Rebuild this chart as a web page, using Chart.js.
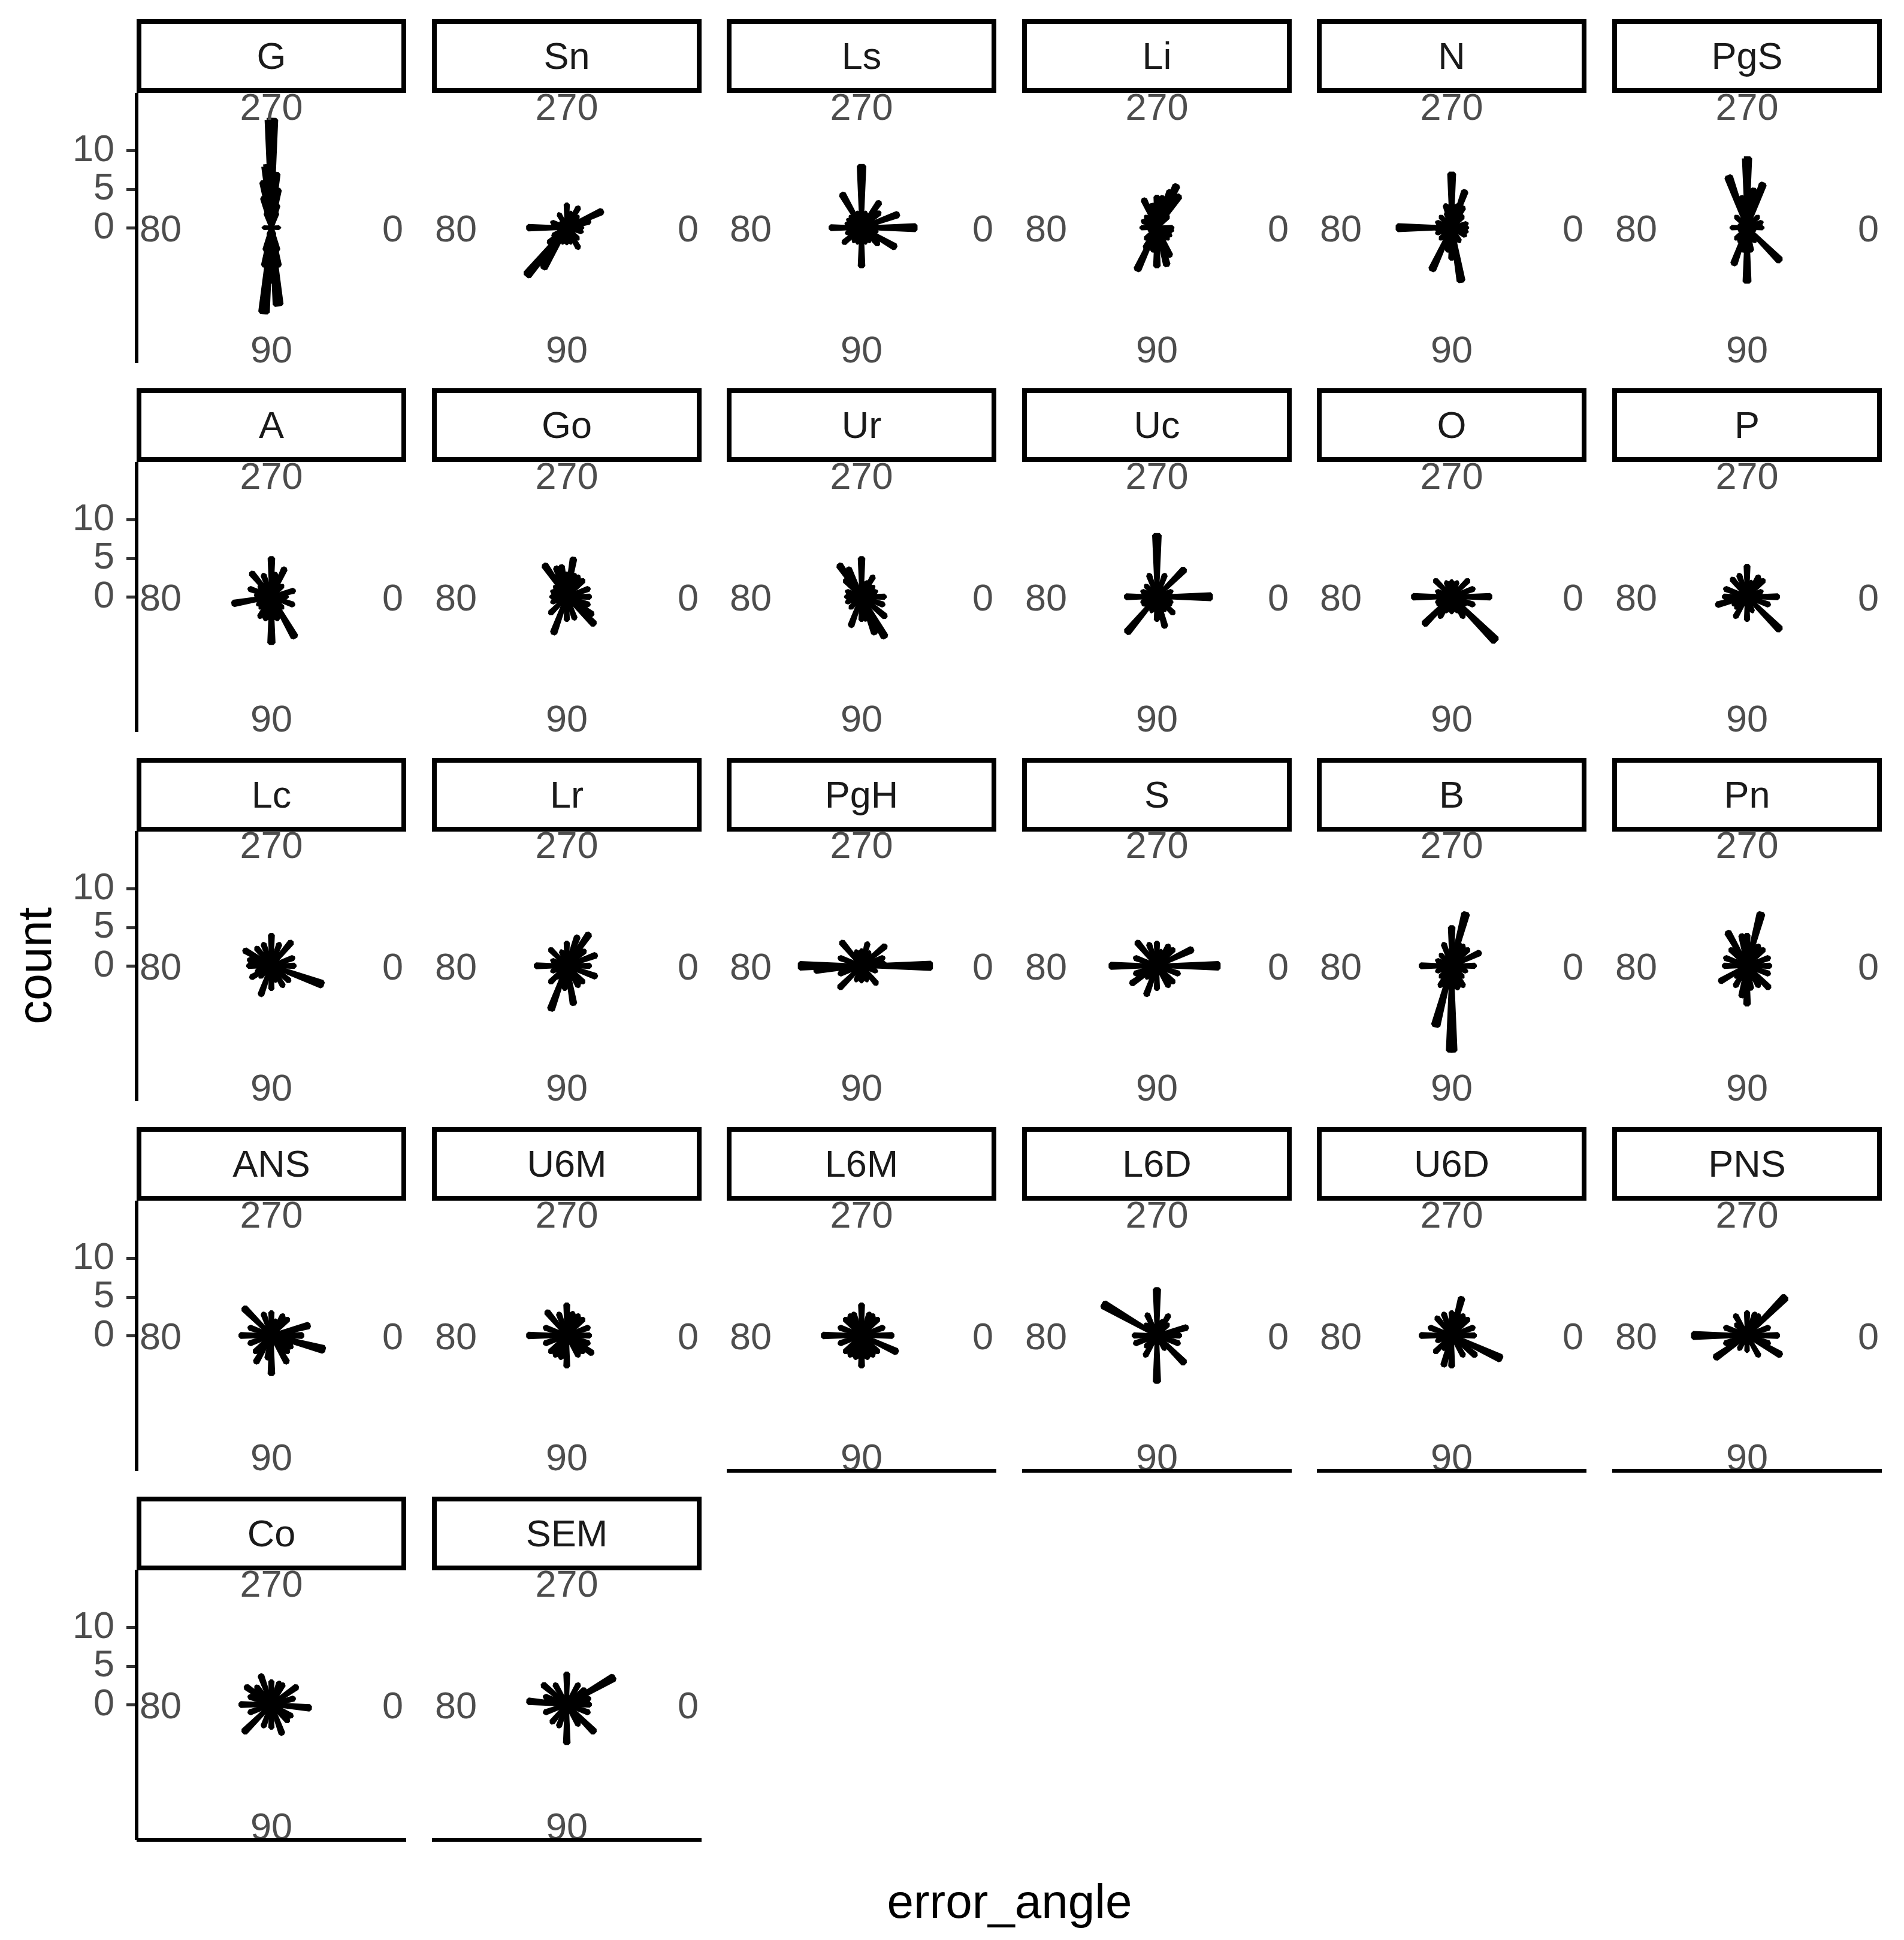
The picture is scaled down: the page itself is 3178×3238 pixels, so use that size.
<!DOCTYPE html>
<html><head><meta charset="utf-8">
<script src="https://cdn.jsdelivr.net/npm/chart.js@4.4.1/dist/chart.umd.min.js"></script>
<style>
html,body{margin:0;padding:0;background:#fff;}
#fig{position:relative;width:3178px;height:3238px;overflow:hidden;font-family:"Liberation Sans",Arial,sans-serif;background:#fff;}
.strip{position:absolute;box-sizing:border-box;border:8px solid #000;background:#fff;color:#1A1A1A;font-size:63px;display:flex;align-items:center;justify-content:center;line-height:1;}
canvas{position:absolute;}
.title{position:absolute;color:#000;font-size:80px;white-space:nowrap;line-height:1;}
</style></head><body><div id="fig"></div>
<script>
// ---------------- data ----------------
const angleBins = [0,5,10,15,20,25,30,35,40,45,50,55,60,65,70,75,80,85,90,95,100,105,110,115,120,125,130,135,140,145,150,155,160,165,170,175,180,185,190,195,200,205,210,215,220,225,230,235,240,245,250,255,260,265,270,275,280,285,290,295,300,305,310,315,320,325,330,335,340,345,350,355];
const thetaTicks = [0, 90, 180, 270];
const thetaTickLabels = ['0', '90', '180', '270'];
const countTicks = [0, 5, 10];
const panelNames = ['G','Sn','Ls','Li','N','PgS','A','Go','Ur','Uc','O','P','Lc','Lr','PgH','S','B','Pn','ANS','U6M','L6M','L6D','U6D','PNS','Co','SEM'];

// [error_angle bin centre, count]
const rays_G = [[270,14],[265,8],[275,7],[260,6],[280,5],[255,4],[285,3],[250,2],[290,2],[90,7],[95,11],[85,10],[100,5],[80,5],[105,3],[75,3],[110,1],[70,1],[0,1],[180,1]];
const rays_Sn = [[130,8],[120,6],[335,5],[180,5],[270,3],[300,3],[315,2],[60,3],[90,2],[45,2],[0,2],[150,2],[200,2],[240,2],[345,3],[15,2],[105,2],[75,2],[285,2],[225,1],[165,1],[210,1],[140,3],[30,1]];
const rays_Ls = [[270,8],[90,5],[0,7],[180,4],[240,5],[305,4],[320,3],[340,5],[30,5],[140,3],[60,2],[120,2],[210,2],[225,2],[285,2],[255,2],[15,2],[345,2],[160,2],[195,2],[75,2],[105,2],[45,3]];
const rays_Li = [[115,6],[120,3],[90,5],[75,5],[65,4],[295,6],[290,5],[305,5],[245,4],[270,4],[255,3],[280,4],[205,2],[10,2],[180,2],[0,2],[135,2],[45,2],[100,3],[260,3],[315,2],[225,2],[160,1],[30,2]];
const rays_N = [[270,7],[80,7],[180,7],[175,2],[290,5],[115,6],[100,3],[90,4],[255,3],[300,3],[0,2],[30,2],[60,2],[135,2],[225,2],[315,2],[345,2],[15,2],[200,2],[160,2],[250,2],[285,3],[310,2]];
const rays_PgS = [[270,9],[250,7],[290,6],[280,5],[260,4],[90,7],[110,5],[45,6],[100,3],[80,3],[0,2],[180,2],[135,2],[225,2],[315,2],[20,1],[340,2],[160,1],[200,1],[60,2],[120,2]];
const rays_A = [[270,5],[230,4],[295,4],[170,5],[90,6],[60,6],[20,3],[345,3],[0,2],[120,3],[135,2],[200,3],[250,3],[315,2],[45,2],[105,3],[75,3],[150,2],[185,2],[220,2],[280,3]];
const rays_Go = [[280,5],[235,5],[250,4],[260,4],[245,3],[45,5],[35,4],[110,5],[90,3],[0,3],[20,3],[340,3],[315,3],[300,3],[180,2],[200,2],[160,2],[135,3],[70,3],[220,2],[290,3],[270,3]];
const rays_Ur = [[270,5],[235,5],[245,4],[225,3],[60,6],[70,5],[40,4],[110,4],[90,3],[0,3],[180,2],[300,3],[320,2],[340,2],[20,3],[135,2],[160,2],[200,2],[290,2],[80,3]];
const rays_Uc = [[270,8],[0,7],[130,6],[75,4],[180,4],[315,5],[290,3],[250,3],[225,2],[90,3],[45,3],[30,2],[150,2],[200,2],[340,2],[110,2],[60,2],[20,2],[160,2]];
const rays_O = [[0,5],[180,5],[45,8],[135,5],[270,2],[90,2],[315,3],[225,3],[20,3],[160,2],[200,2],[340,3],[60,3],[120,3],[250,2],[290,2],[110,2],[70,2],[30,2],[150,2]];
const rays_P = [[270,4],[0,4],[45,6],[165,4],[315,3],[230,3],[300,3],[90,3],[120,3],[200,3],[20,3],[340,2],[250,3],[135,2],[180,3],[70,2],[285,2],[150,2]];
const rays_Lc = [[270,4],[210,4],[230,3],[20,7],[110,4],[60,3],[310,4],[180,3],[0,3],[90,3],[340,3],[150,3],[135,2],[250,3],[290,3],[40,3],[160,2],[195,3],[75,2]];
const rays_Lr = [[305,5],[290,4],[320,3],[110,6],[80,5],[95,3],[180,4],[20,4],[340,4],[0,3],[45,3],[135,3],[160,2],[200,2],[225,3],[250,2],[270,3],[60,3],[130,2]];
const rays_PgH = [[0,9],[355,3],[180,8],[175,6],[230,4],[320,4],[285,3],[135,4],[50,3],[90,2],[270,2],[20,2],[160,3],[200,3],[340,3],[250,2],[110,2],[70,2],[300,2]];
const rays_S = [[180,6],[0,8],[230,4],[335,5],[110,4],[145,4],[270,3],[300,3],[90,3],[45,3],[20,3],[200,3],[250,3],[160,3],[60,3],[130,2],[315,3],[285,2]];
const rays_B = [[285,7],[290,3],[90,11],[105,8],[270,5],[180,4],[335,4],[0,3],[60,3],[120,3],[45,2],[135,2],[225,2],[250,3],[315,3],[20,2],[200,2],[160,2],[75,3],[300,3]];
const rays_Pn = [[285,7],[240,5],[270,4],[260,4],[300,3],[90,5],[100,4],[80,3],[45,4],[150,4],[0,3],[180,3],[20,3],[340,3],[315,3],[120,3],[200,3],[225,3],[60,3],[135,2]];
const rays_ANS = [[225,5],[15,7],[90,5],[60,4],[120,4],[180,4],[270,3],[345,5],[0,4],[30,3],[250,3],[300,3],[315,3],[135,3],[160,3],[200,3],[45,3],[100,3],[285,2]];
const rays_U6M = [[270,4],[230,4],[250,3],[180,5],[90,4],[35,4],[0,3],[20,3],[60,3],[120,3],[135,3],[160,3],[200,3],[300,3],[315,3],[340,3],[45,3],[105,3],[285,3]];
const rays_L6M = [[270,4],[180,5],[0,4],[25,5],[90,4],[240,3],[300,3],[315,3],[225,3],[135,3],[160,3],[200,3],[45,3],[60,3],[120,3],[340,3],[250,3],[290,3],[105,3],[75,3]];
const rays_L6D = [[270,6],[210,8],[90,6],[45,5],[345,4],[180,3],[245,3],[0,3],[120,3],[135,2],[160,3],[300,3],[20,3],[60,2],[225,2],[290,2],[315,2]];
const rays_U6D = [[285,5],[25,7],[40,4],[180,4],[230,3],[90,4],[105,4],[270,3],[0,3],[135,3],[60,3],[200,3],[250,3],[315,3],[340,3],[160,2],[300,3],[120,2]];
const rays_PNS = [[315,7],[180,7],[145,5],[30,5],[0,4],[270,3],[300,3],[240,3],[90,2],[60,3],[120,2],[200,3],[340,3],[20,3],[225,2],[160,3],[290,3]];
const rays_Co = [[135,5],[5,5],[180,4],[250,4],[325,4],[70,4],[215,4],[270,3],[90,3],[300,3],[30,3],[45,3],[110,3],[160,3],[200,3],[230,3],[345,3],[290,3]];
const rays_SEM = [[270,4],[330,7],[320,3],[90,5],[45,5],[185,5],[220,4],[130,3],[0,3],[20,3],[60,3],[110,3],[160,3],[200,3],[240,3],[300,3],[345,3]];

const panelRays = [rays_G, rays_Sn, rays_Ls, rays_Li, rays_N, rays_PgS, rays_A, rays_Go, rays_Ur, rays_Uc, rays_O, rays_P,
  rays_Lc, rays_Lr, rays_PgH, rays_S, rays_B, rays_Pn, rays_ANS, rays_U6M, rays_L6M, rays_L6D, rays_U6D, rays_PNS, rays_Co, rays_SEM];

// ---------------- layout / style ----------------
const NCOL = 6;
const COL_LEFT0 = 228, COL_PITCH = 492.6, PANEL_W = 450;
const ROW_TOP0 = 32, ROW_PITCH = 616.4, STRIP_H = 122.5, PANEL_H = 451;
const R_MAX = 17.5;          // radial range of half a panel (data max 14 sits at 0.4 of the panel)
const LABEL_R = 15.75;       // theta labels sit at 0.45 of the panel
const AXIS_TXT = 63;
const LINE_W = 6;
const RAY_EDGE = 7;
const FONT = '"Liberation Sans", Arial, sans-serif';
Chart.defaults.font.family = FONT;

const fig = document.getElementById('fig');

function binTable(pairs) {
  const counts = angleBins.map(() => 0);
  pairs.forEach(([a, c]) => { counts[angleBins.indexOf(a)] = c; });
  return counts;
}

const thetaLabelPlugin = {
  id: 'thetaLabels',
  afterDatasetsDraw(chart, args, opts) {
    const s = chart.scales.r;
    const ctx = chart.ctx;
    ctx.save();
    ctx.beginPath();
    ctx.rect(7, 0, chart.width - 7, chart.height);
    ctx.clip();
    ctx.font = AXIS_TXT + 'px ' + FONT;
    ctx.fillStyle = '#4D4D4D';
    ctx.textAlign = 'center';
    ctx.textBaseline = 'alphabetic';
    const capH = AXIS_TXT * 0.716;
    thetaTicks.forEach((t, j) => {
      const idx = angleBins.indexOf(t) + 0.5;
      const p = s.getPointPositionForValue(idx, LABEL_R);
      ctx.fillText(thetaTickLabels[j], p.x, p.y + capH / 2);
    });
    ctx.restore();
    if (opts.bottomAxis) {
      const a = chart.chartArea;
      ctx.save();
      ctx.strokeStyle = '#000';
      ctx.lineWidth = LINE_W;
      ctx.beginPath();
      ctx.moveTo(a.left, a.bottom);
      ctx.lineTo(a.right, a.bottom);
      ctx.stroke();
      ctx.restore();
    }
  }
};

function addCanvas(left, top, w, h) {
  const c = document.createElement('canvas');
  c.width = w; c.height = h;
  c.style.left = left + 'px'; c.style.top = top + 'px';
  c.style.width = w + 'px'; c.style.height = h + 'px';
  fig.appendChild(c);
  return c;
}

panelNames.forEach((name, i) => {
  const r = Math.floor(i / NCOL), c = i % NCOL;
  const left = Math.round(COL_LEFT0 + COL_PITCH * c);
  const stripTop = Math.round(ROW_TOP0 + ROW_PITCH * r);
  const panelTop = Math.round(ROW_TOP0 + ROW_PITCH * r + STRIP_H);
  const bottomAxis = (i + NCOL) >= panelNames.length;

  // y (count) axis on the first column
  if (c === 0) {
    const axW = 120;
    const yc = addCanvas(left - axW, panelTop, axW + 4, PANEL_H);
    yc.style.zIndex = 2;
    new Chart(yc, {
      type: 'scatter',
      data: { datasets: [] },
      options: {
        responsive: false, animation: false, devicePixelRatio: 1,
        layout: { padding: 0 },
        plugins: { legend: { display: false }, tooltip: { enabled: false } },
        scales: {
          x: { display: false },
          y: {
            min: -R_MAX, max: R_MAX, position: 'left',
            afterBuildTicks: s => { s.ticks = countTicks.map(v => ({ value: v })); },
            afterFit: s => { s.width = axW; s.paddingTop = 0; s.paddingBottom = 0; },
            ticks: { font: { size: AXIS_TXT }, color: '#4D4D4D', padding: 20 },
            grid: { drawOnChartArea: false, tickLength: 17, color: '#333333', lineWidth: LINE_W - 1 },
            border: { display: true, color: '#000', width: LINE_W }
          }
        }
      }
    });
  }

  const pc = addCanvas(left, panelTop, PANEL_W, PANEL_H + 6);
  pc.style.zIndex = 1;
  new Chart(pc, {
    type: 'polarArea',
    data: {
      labels: angleBins,
      datasets: [{
        data: binTable(panelRays[i]),
        backgroundColor: '#000',
        borderColor: '#000',
        borderWidth: ctx => (ctx.raw > 0 ? RAY_EDGE : 0),
        borderAlign: 'center'
      }]
    },
    options: {
      responsive: false, animation: false, devicePixelRatio: 1,
      layout: { padding: { top: 0, left: 0, right: 0, bottom: 6 } },
      plugins: { legend: { display: false }, tooltip: { enabled: false }, thetaLabels: { bottomAxis } },
      scales: {
        r: {
          min: 0, max: R_MAX, startAngle: 87.5,
          ticks: { display: false },
          grid: { display: false },
          angleLines: { display: false },
          pointLabels: { display: false }
        }
      }
    },
    plugins: [thetaLabelPlugin]
  });

  const st = document.createElement('div');
  st.className = 'strip';
  st.style.left = left + 'px';
  st.style.top = stripTop + 'px';
  st.style.width = PANEL_W + 'px';
  st.style.height = STRIP_H + 'px';
  st.style.zIndex = 3;
  st.textContent = name;
  fig.appendChild(st);
});

// axis titles
const yt = document.createElement('div');
yt.className = 'title';
yt.textContent = 'count';
yt.style.left = '58px'; yt.style.top = '1612px';
yt.style.transform = 'translate(-50%,-50%) rotate(-90deg)';
fig.appendChild(yt);

const xt = document.createElement('div');
xt.className = 'title';
xt.textContent = 'error_angle';
xt.style.left = '1685px'; xt.style.top = '3174px';
xt.style.transform = 'translate(-50%,-50%)';
fig.appendChild(xt);
</script>
</body></html>
